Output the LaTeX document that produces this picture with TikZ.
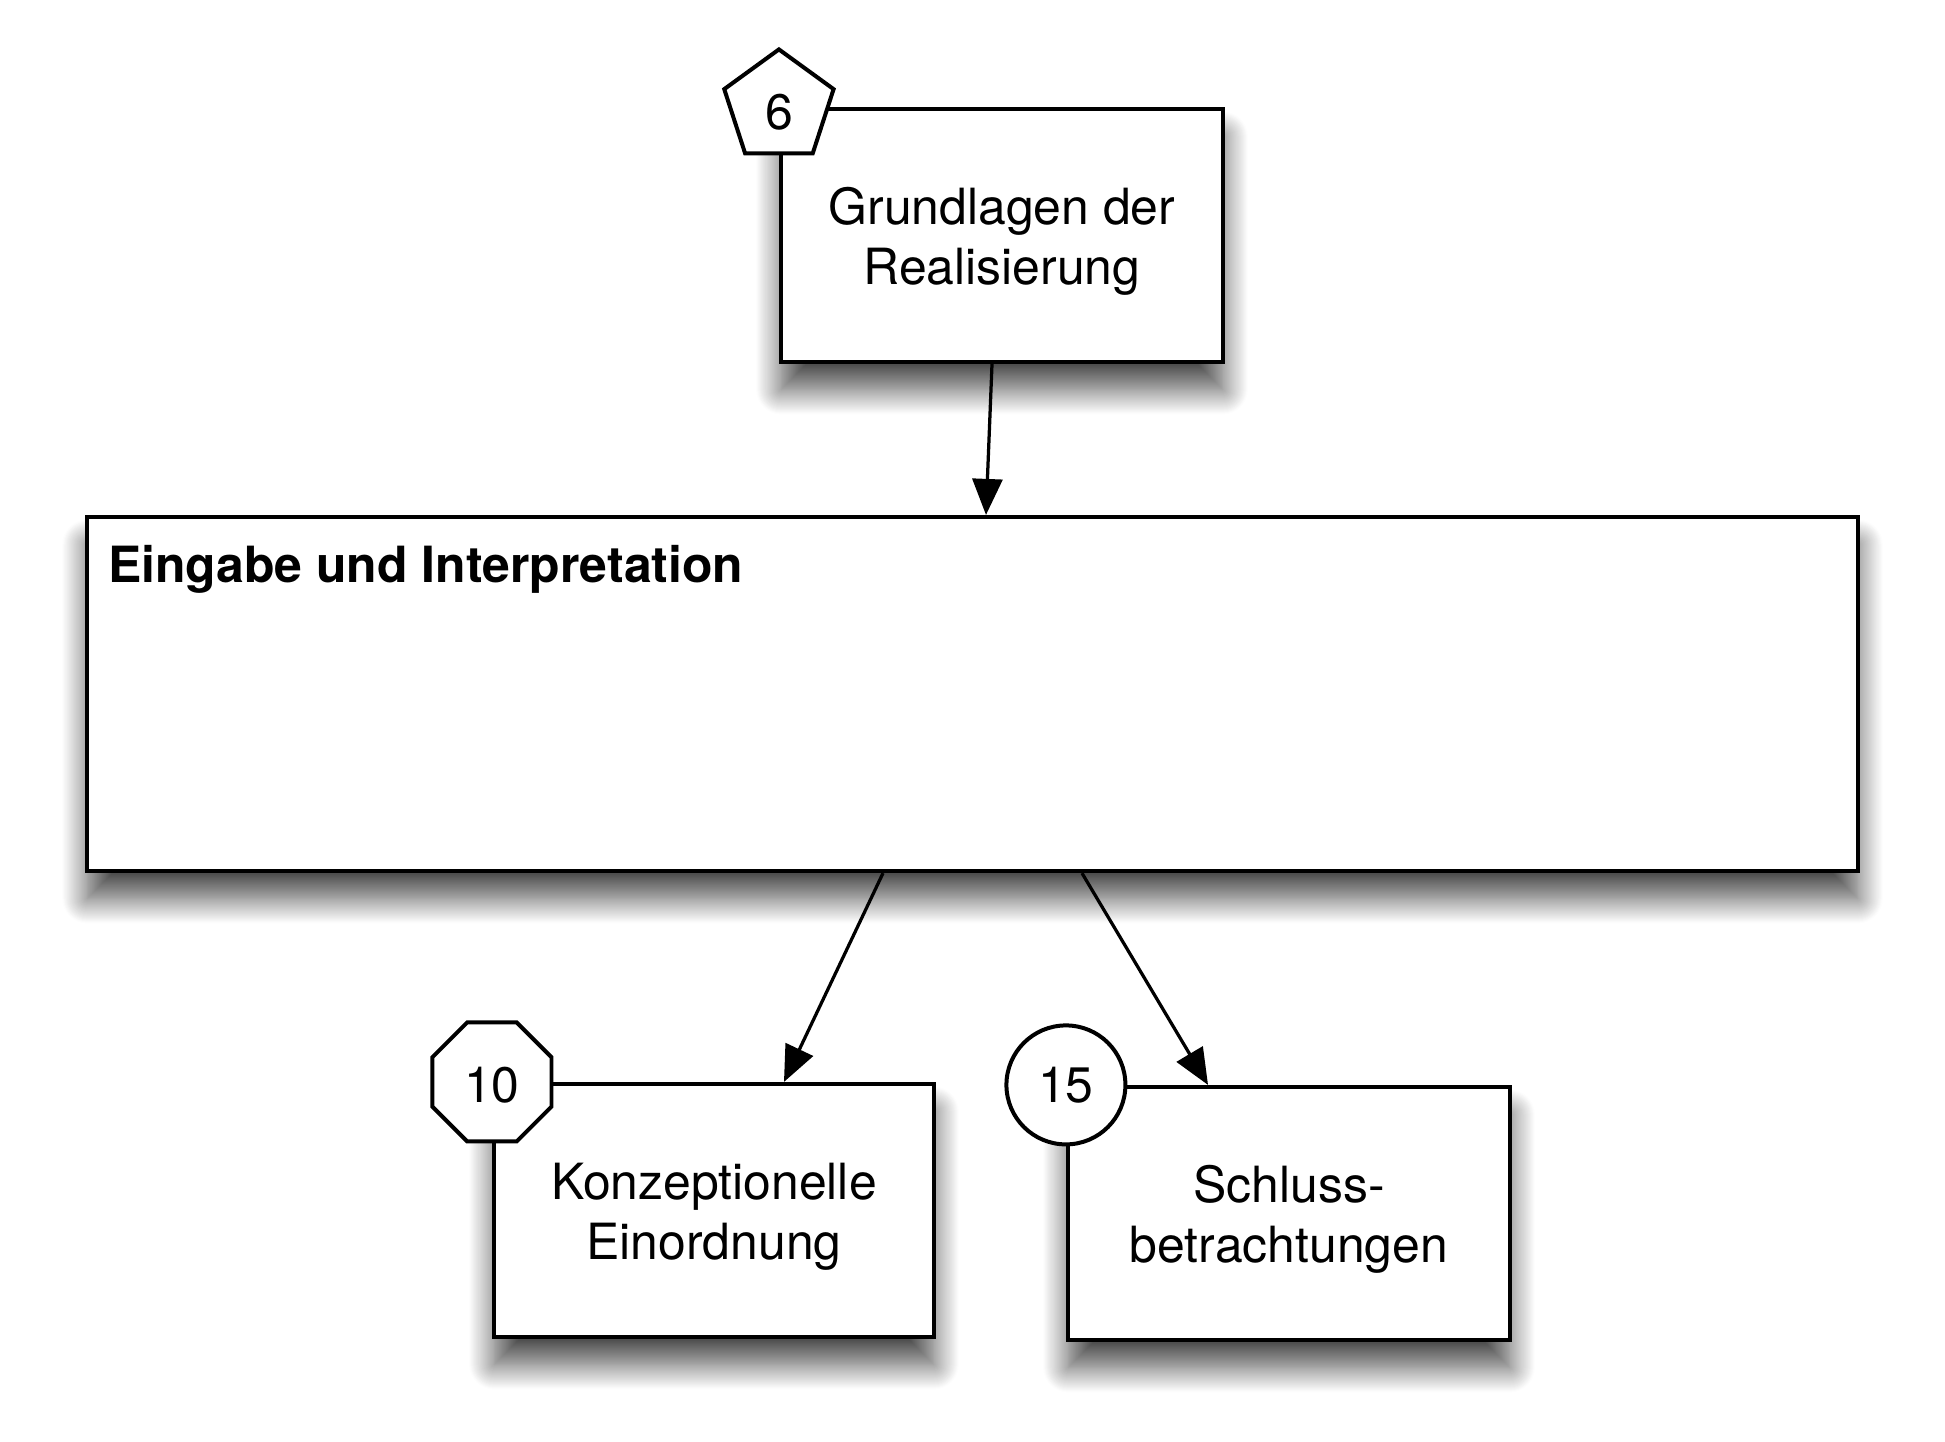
\documentclass[tikz,border=0pt]{standalone}
\usepackage{fontspec}
\setmainfont{TeX Gyre Heros}
\usetikzlibrary{shapes.geometric,arrows.meta,shadows.blur}

\begin{document}
\begin{tikzpicture}[x = 0.02cm, y = -0.02cm,
    box/.style = {draw, fill=white, line width=0.085cm, minimum width=8.84cm, minimum height=5.06cm,
      align=center, font=\fontsize{28.4}{33.9}\selectfont,
      blur shadow={shadow xshift=0cm, shadow yshift=-0.55cm, shadow blur radius=0.5cm,
        shadow blur steps=25, shadow opacity=70}},
    badge/.style = {draw, fill=white, line width=0.08cm, inner sep=0pt, outer sep=0pt,
      font=\fontsize{28.4}{33.9}\selectfont},
    link/.style = {-{Triangle[length=0.72cm, width=0.6cm]}, line width=0.065cm}]
      \useasboundingbox (0, 0) rectangle (1945, 1441);
      % boxes
      \node [box] (grund) at (1002, 235.5) {\rule{0pt}{0.97cm}Grundlagen der\\Realisierung};
      \node [box, minimum width=35.42cm, minimum height=7.08cm] (eingabe) at (972.5, 694) {};
      \node [box, minimum width=8.8cm] (konz) at (714, 1210.5) {\rule{0pt}{0.97cm}Konzeptionelle\\Einordnung};
      \node [box] (schluss) at (1289, 1213.5) {\rule{0pt}{0.97cm}Schluss-\\betrachtungen};
      \node [anchor=base west, xshift=0.34cm, yshift=-1.36cm, font=\fontsize{28.4}{33.9}\selectfont\bfseries]
        (titel) at (eingabe.north west) {Eingabe und Interpretation};
      % chapter numbers
      \node [badge, regular polygon, regular polygon sides=5, minimum size=2.3cm, text height=0.92cm, text depth=0pt]
        (k6) at (grund.north west) {6};
      \node [badge, regular polygon, regular polygon sides=8, minimum size=2.58cm, text height=0.82cm, text depth=0pt]
        (k10) at (konz.north west) {10};
      \node [badge, circle, minimum size=2.38cm] (k15) at (schluss.north west) {15};
      % arrows
      \draw [link] ([xshift=-0.2cm]grund.south) -- ([xshift=0.27cm]eingabe.north);
      \draw [link] ([xshift=-1.79cm]eingabe.south) -- ([xshift=1.4cm]konz.north);
      \draw [link] ([xshift=2.19cm]eingabe.south) -- ([xshift=-1.62cm]schluss.north);
\end{tikzpicture}
\end{document}
